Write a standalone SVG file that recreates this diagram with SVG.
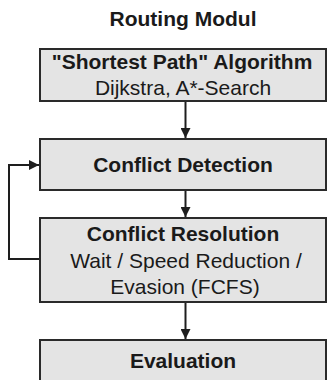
<svg xmlns="http://www.w3.org/2000/svg" width="328" height="380" viewBox="0 0 328 380">
  <defs>
    <marker id="arrow" viewBox="0 0 10 10" refX="10" refY="5" markerWidth="10" markerHeight="10" markerUnits="userSpaceOnUse" orient="auto">
      <path d="M0,0 L10,5 L0,10 Z" fill="#1e1e1e"/>
    </marker>
    <style>
      .box { fill: #e4e4e4; stroke: #2a2a2a; stroke-width: 2; }
      .t { font-family: "Liberation Sans", Arial, sans-serif; font-size: 21px; fill: #1a1a1a; text-anchor: middle; }
      .b { font-weight: bold; }
      .conn { fill: none; stroke: #1e1e1e; stroke-width: 2; }
    </style>
  </defs>
  <rect width="328" height="380" fill="#ffffff"/>

  <text class="t b" x="183" y="26">Routing Modul</text>

  <g id="shortest-path">
    <rect class="box" x="40" y="49" width="286" height="52"/>
    <text class="t b" x="182" y="69">"Shortest Path" Algorithm</text>
    <text class="t" x="183" y="95">Dijkstra, A*-Search</text>
  </g>

  <g id="conflict-detection">
    <rect class="box" x="40" y="139" width="286" height="51"/>
    <text class="t b" x="183" y="172">Conflict Detection</text>
  </g>

  <g id="conflict-resolution">
    <rect class="box" x="40" y="218" width="286" height="84"/>
    <text class="t b" x="183" y="241">Conflict Resolution</text>
    <text class="t" x="186" y="268">Wait / Speed Reduction /</text>
    <text class="t" x="185" y="294">Evasion (FCFS)</text>
  </g>

  <g id="evaluation">
    <rect class="box" x="40" y="340" width="286" height="50"/>
    <text class="t b" x="183" y="368">Evaluation</text>
  </g>

  <g id="connectors">
    <line class="conn" x1="185.5" y1="102" x2="185.5" y2="138" marker-end="url(#arrow)"/>
    <line class="conn" x1="185.5" y1="191" x2="185.5" y2="217" marker-end="url(#arrow)"/>
    <line class="conn" x1="185.5" y1="303" x2="185.5" y2="339" marker-end="url(#arrow)"/>
    <polyline class="conn" points="39,259 9,259 9,165 39,165" marker-end="url(#arrow)"/>
  </g>
</svg>
